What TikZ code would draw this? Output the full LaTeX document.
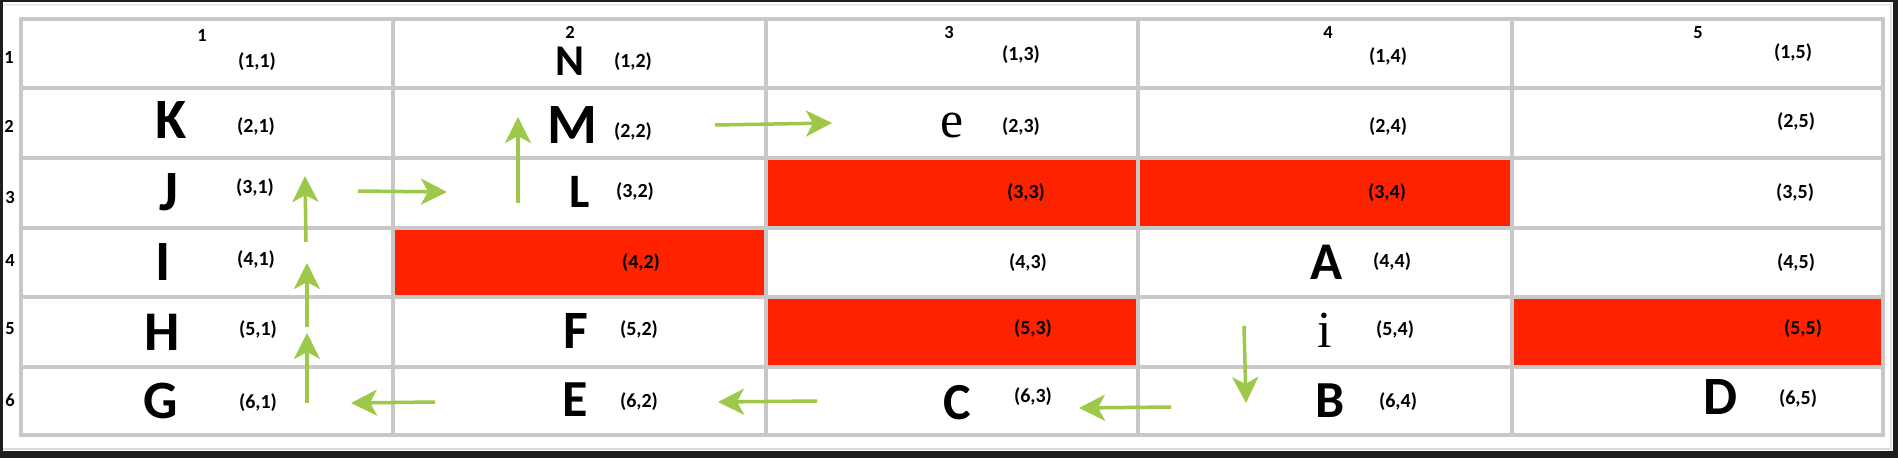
\documentclass[tikz,border=0pt]{standalone}
\usepackage{fontspec}
\setmainfont{Carlito}
\newfontfamily\serifface{Liberation Serif}
\usetikzlibrary{arrows.meta}
\definecolor{gridgray}{HTML}{C8C8C8}
\definecolor{cellred}{HTML}{FF2200}
\definecolor{arrowgreen}{HTML}{9DC84A}
\definecolor{framedark}{HTML}{1E1E1E}
\begin{document}
\begin{tikzpicture}[x=1pt,y=-1pt,
  gridline/.style={draw=gridgray,line width=4.5pt},
  redcell/.style={fill=cellred},
  coordlbl/.style={font=\bfseries\fontsize{20}{20}\selectfont,inner sep=0pt},
  headlbl/.style={font=\bfseries\fontsize{18.5}{18.5}\selectfont,inner sep=0pt},
  bigletter/.style={font=\bfseries\fontsize{#1}{#1}\selectfont,inner sep=0pt,anchor=base},
  serifletter/.style={font=\serifface\fontsize{52}{52}\selectfont,inner sep=0pt,anchor=base},
  flow/.style={draw=arrowgreen,line width=3.5pt,-{Stealth[length=26pt,width=26pt,inset=7pt]}}
]
\useasboundingbox (0,0) rectangle (1898,458);
% frame
\fill[framedark] (0,0) rectangle (1898,458);
\fill[white] (3,2) rectangle (1893,451);
\draw[draw=gray!15,line width=2pt] (3,5) -- (1891,5);
\draw[draw=blue!20!gray!25,line width=2pt] (3,449) -- (1891,449);
\draw[draw=gray!20,line width=2pt] (1891,2) -- (1891,451);
% red cells
\fill[redcell] (766,158) rectangle (1138,228);
\fill[redcell] (1138,158) rectangle (1512,228);
\fill[redcell] (393,228) rectangle (766,297);
\fill[redcell] (766,297) rectangle (1138,367);
\fill[redcell] (1512,297) rectangle (1883,367);
% grid
\foreach \yy in {19,88,158,228,297,367,435} \draw[gridline] (19,\yy) -- (1885,\yy);
\foreach \xx in {21,393,766,1138,1512,1883} \draw[gridline] (\xx,17) -- (\xx,437);
% column headers
\node[headlbl] (c1) at (202,35) {1};
\node[headlbl] (c2) at (570,32) {2};
\node[headlbl] (c3) at (949,32) {3};
\node[headlbl] (c4) at (1328,32) {4};
\node[headlbl] (c5) at (1698,33) {5};
% row headers
\node[headlbl] (r1) at (9,57) {1};
\node[headlbl] (r2) at (9,126) {2};
\node[headlbl] (r3) at (10,197) {3};
\node[headlbl] (r4) at (10,260) {4};
\node[headlbl] (r5) at (10,329) {5};
\node[headlbl] (r6) at (10,400) {6};
% coordinate labels
\node[coordlbl] (p11) at (257,62) {(1,1)};
\node[coordlbl] (p21) at (256,127) {(2,1)};
\node[coordlbl] (p31) at (255,188) {(3,1)};
\node[coordlbl] (p41) at (256,260) {(4,1)};
\node[coordlbl] (p51) at (258,330) {(5,1)};
\node[coordlbl] (p61) at (258,403) {(6,1)};
\node[coordlbl] (p12) at (633,62) {(1,2)};
\node[coordlbl] (p22) at (633,132) {(2,2)};
\node[coordlbl] (p32) at (635,192) {(3,2)};
\node[coordlbl] (p42) at (641,263) {(4,2)};
\node[coordlbl] (p52) at (639,330) {(5,2)};
\node[coordlbl] (p62) at (639,402) {(6,2)};
\node[coordlbl] (p13) at (1021,55) {(1,3)};
\node[coordlbl] (p23) at (1021,127) {(2,3)};
\node[coordlbl] (p33) at (1026,193) {(3,3)};
\node[coordlbl] (p43) at (1028,263) {(4,3)};
\node[coordlbl] (p53) at (1033,329) {(5,3)};
\node[coordlbl] (p63) at (1033,397) {(6,3)};
\node[coordlbl] (p14) at (1388,57) {(1,4)};
\node[coordlbl] (p24) at (1388,127) {(2,4)};
\node[coordlbl] (p34) at (1387,193) {(3,4)};
\node[coordlbl] (p44) at (1392,262) {(4,4)};
\node[coordlbl] (p54) at (1395,330) {(5,4)};
\node[coordlbl] (p64) at (1398,402) {(6,4)};
\node[coordlbl] (p15) at (1793,53) {(1,5)};
\node[coordlbl] (p25) at (1796,122) {(2,5)};
\node[coordlbl] (p35) at (1795,193) {(3,5)};
\node[coordlbl] (p45) at (1796,263) {(4,5)};
\node[coordlbl] (p55) at (1803,329) {(5,5)};
\node[coordlbl] (p65) at (1798,399) {(6,5)};
% letters
\node[bigletter=57] (K) at (171,138) {K};
\node[bigletter=57] (J) at (169,210) {J};
\node[bigletter=57] (I) at (163,280) {I};
\node[bigletter=56] (H) at (162,350) {H};
\node[bigletter=54] (G) at (161,418) {G};
\node[bigletter=44] (N) at (570,75) {N};
\node[bigletter=57] (M) at (572,143) {M};
\node[bigletter=48] (L) at (580,207) {L};
\node[bigletter=54] (F) at (576,348) {F};
\node[bigletter=52] (E) at (575,416) {E};
\node[serifletter] (e) at (952,137) {e};
\node[bigletter=52] (C) at (957,419) {C};
\node[bigletter=53] (A) at (1327,279) {A};
\node[serifletter] (i) at (1325,347) {i};
\node[bigletter=52] (B) at (1330,417) {B};
\node[bigletter=54] (D) at (1720,414) {D};
% arrow end points
\coordinate (a1s) at (435,402); \coordinate (a1e) at (351,403);
\coordinate (a2s) at (307,403); \coordinate (a2e) at (307,333);
\coordinate (a3s) at (307,327); \coordinate (a3e) at (307,263);
\coordinate (a4s) at (306,242); \coordinate (a4e) at (305,176);
\coordinate (a5s) at (358,191); \coordinate (a5e) at (447,192);
\coordinate (a6s) at (518,203); \coordinate (a6e) at (518,117);
\coordinate (a7s) at (715,125); \coordinate (a7e) at (832,123);
\coordinate (a8s) at (1244,326); \coordinate (a8e) at (1246,403);
\coordinate (a9s) at (1171,407); \coordinate (a9e) at (1079,408);
\coordinate (a10s) at (817,401); \coordinate (a10e) at (718,402);
\foreach \k in {1,...,10} \draw[flow] (a\k s) -- (a\k e);
\end{tikzpicture}
\end{document}
